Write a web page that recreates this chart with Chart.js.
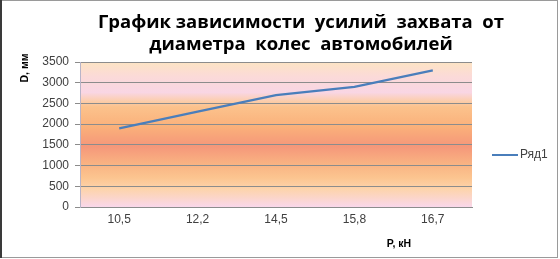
<!DOCTYPE html>
<html lang="ru">
<head>
    <meta charset="UTF-8">
    <title>График зависимости усилий захвата от диаметра колес автомобилей</title>
    <script src="https://cdn.jsdelivr.net/npm/chart.js"></script>
    <style>
        html, body {
            margin: 0;
            padding: 0;
            background: #ffffff;
        }
        .wrap {
            width: 560px;
            height: 259px;
        }
    </style>
</head>
<body>
    <div class="wrap">
        <canvas id="chart" width="560" height="259"></canvas>
    </div>

    <script>
        // данные графика
        const categories = ['10,5', '12,2', '14,5', '15,8', '16,7'];
        const seriesValues = [1900, 2300, 2700, 2900, 3300];
        const seriesName = 'Ряд1';
        const titleLines = ['График зависимости  усилий  захвата  от', 'диаметра  колес  автомобилей'];
        const xTitle = 'P, кН';
        const yTitle = 'D, мм';

        const lineColor = '#4a7ebb';
        const textColor = '#404040';
        const baseFont = '"Liberation Sans", Arial, sans-serif';
        const titleFont = '"Open Sans", "Noto Sans", sans-serif';

        // фон, рамка, заголовки и легенда
        const decor = {
            id: 'decor',
            beforeDraw(chart) {
                const ctx = chart.ctx;
                const a = chart.chartArea;
                ctx.save();
                ctx.fillStyle = '#ffffff';
                ctx.fillRect(0, 0, chart.width, chart.height);

                const g = ctx.createLinearGradient(0, a.top, 0, a.bottom);
                g.addColorStop(0.00, '#fde4c4');
                g.addColorStop(0.10, '#fbdad8');
                g.addColorStop(0.21, '#f9d6e4');
                g.addColorStop(0.27, '#fccdab');
                g.addColorStop(0.31, '#fcc28c');
                g.addColorStop(0.45, '#fab07a');
                g.addColorStop(0.58, '#f5977a');
                g.addColorStop(0.70, '#f9b282');
                g.addColorStop(0.80, '#fcc590');
                g.addColorStop(0.88, '#fdd4ad');
                g.addColorStop(1.00, '#f9d7ea');
                ctx.fillStyle = g;
                ctx.fillRect(a.left, a.top, a.right - a.left, a.bottom - a.top);
                ctx.restore();
            },
            afterDraw(chart) {
                const ctx = chart.ctx;
                ctx.save();

                // заголовок
                ctx.fillStyle = '#000000';
                ctx.textAlign = 'center';
                ctx.textBaseline = 'middle';
                ctx.font = 'bold 18.5px ' + titleFont;
                ctx.fillText(titleLines[0], 301, 23);
                ctx.fillText(titleLines[1], 301, 45);

                // подписи осей
                ctx.font = 'bold 10.5px ' + baseFont;
                ctx.fillText(xTitle, 399, 244);
                ctx.save();
                ctx.translate(25, 68);
                ctx.rotate(-Math.PI / 2);
                ctx.fillText(yTitle, 0, 0);
                ctx.restore();

                // легенда
                const ly = 155;
                ctx.strokeStyle = lineColor;
                ctx.lineWidth = 2;
                ctx.beginPath();
                ctx.moveTo(492, ly);
                ctx.lineTo(518, ly);
                ctx.stroke();
                ctx.fillStyle = textColor;
                ctx.textAlign = 'left';
                ctx.font = '12px ' + baseFont;
                ctx.fillText(seriesName, 520, ly);

                // рамка
                ctx.strokeStyle = '#9a9a9a';
                ctx.lineWidth = 1;
                ctx.strokeRect(0.5, 0.5, 557, 257);
                ctx.fillStyle = '#3a3a3a';
                ctx.fillRect(0, 0, 2, 258);
                ctx.restore();
            }
        };

        new Chart(document.getElementById('chart'), {
            type: 'line',
            data: {
                labels: categories,
                datasets: [{
                    label: seriesName,
                    data: seriesValues,
                    borderColor: lineColor,
                    borderWidth: 2.25,
                    pointRadius: 0,
                    tension: 0,
                    fill: false
                }]
            },
            options: {
                responsive: false,
                animation: false,
                layout: {
                    padding: { top: 62, right: 88, bottom: 0, left: 0 }
                },
                plugins: {
                    legend: { display: false },
                    title: { display: false },
                    tooltip: { enabled: false }
                },
                scales: {
                    x: {
                        offset: true,
                        afterFit(scale) { scale.height = 52; },
                        grid: { display: false, drawTicks: false },
                        border: { display: true, color: '#8c8c8c', width: 1 },
                        ticks: {
                            color: textColor,
                            padding: 5,
                            maxRotation: 0,
                            font: { family: baseFont, size: 12 }
                        }
                    },
                    y: {
                        min: 0,
                        max: 3500,
                        afterFit(scale) { scale.width = 80; },
                        grid: {
                            color: '#8c8c8c',
                            lineWidth: 1,
                            tickLength: 5,
                            drawTicks: true
                        },
                        border: { display: true, color: '#b8b4c8', width: 1 },
                        ticks: {
                            stepSize: 500,
                            color: textColor,
                            padding: 6,
                            font: { family: baseFont, size: 12 },
                            callback: (v) => String(v)
                        }
                    }
                }
            },
            plugins: [decor]
        });
    </script>
</body>
</html>
